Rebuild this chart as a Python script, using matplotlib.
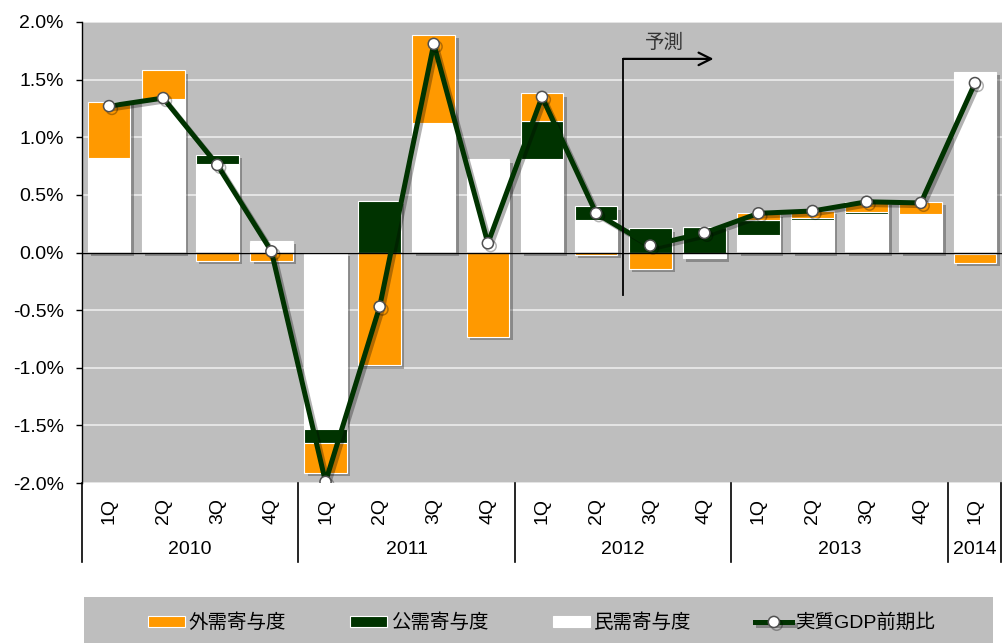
import numpy as np
import matplotlib
matplotlib.use('Agg')
import matplotlib.pyplot as plt
import matplotlib.patheffects as pe
from matplotlib.patches import Rectangle

plt.rcParams['font.family'] = ['Liberation Sans', 'Noto Sans CJK JP']

# quarterly contributions to real GDP growth (%)
quarters = ['1Q', '2Q', '3Q', '4Q'] * 4 + ['1Q']
years = ['2010', '2011', '2012', '2013', '2014']
year_len = [4, 4, 4, 4, 1]

external = [0.49, 0.25, -0.07, -0.07, -0.26, -0.98, 0.77, -0.73, 0.24, -0.02,
            -0.14, 0.0, 0.06, 0.06, 0.09, 0.11, -0.08]
public = [0.0, 0.0, 0.08, 0.01, -0.12, 0.45, 0.0, 0.01, 0.33, 0.12,
          0.21, 0.22, 0.13, 0.02, 0.02, 0.0, -0.01]
private = [0.82, 1.33, 0.77, 0.09, -1.53, 0.0, 1.12, 0.80, 0.81, 0.28,
           0.0, -0.05, 0.15, 0.28, 0.33, 0.33, 1.57]
gdp = [1.27, 1.34, 0.76, 0.01, -1.99, -0.47, 1.81, 0.08, 1.35, 0.34,
       0.06, 0.17, 0.34, 0.36, 0.44, 0.43, 1.47]

forecast_from = 9.5   # boundary between 2012 2Q and 3Q

BG = '#bebebe'
ORANGE = '#ff9900'
GREEN = '#003300'

fig = plt.figure(figsize=(10.02, 6.43), dpi=100)
ax = fig.add_axes([82 / 1002, 160 / 643, 920 / 1002, 461 / 643])
ax.set_facecolor(BG)

x = np.arange(len(quarters))
width = 0.79

# stack from zero outward: private, public, external
series = [(private, 'white', '民需寄与度'),
          (public, GREEN, '公需寄与度'),
          (external, ORANGE, '外需寄与度')]
pos_base = np.zeros(len(x))
neg_base = np.zeros(len(x))
handles = {}
for vals, col, name in series:
    v = np.array(vals)
    base = np.where(v >= 0, pos_base, neg_base)
    b = ax.bar(x, v, width, bottom=base, color=col, edgecolor='white',
               linewidth=0.8, zorder=2)
    handles[name] = b
    pos_base += np.where(v >= 0, v, 0)
    neg_base += np.where(v < 0, v, 0)

# drop shadow behind each whole stack
ax.bar(x, pos_base - neg_base, width, bottom=neg_base, color='none',
       zorder=1.5,
       path_effects=[pe.SimplePatchShadow(offset=(2.5, -2.5),
                                          shadow_rgbFace='#4a4a4a', alpha=0.45)])

ax.axhline(0, color='black', lw=1, zorder=2.5)

gdp_line, = ax.plot(x, gdp, color=GREEN, lw=3.6, marker='o', markersize=8,
                    markerfacecolor='white', markeredgecolor='#505050',
                    markeredgewidth=1.1, zorder=3,
                    path_effects=[pe.SimpleLineShadow(offset=(2, -2),
                                                      shadow_color='k', alpha=0.3),
                                  pe.Normal()])

# forecast marker
ax.plot([forecast_from, forecast_from], [-0.37, 1.68], color='black', lw=1.3,
        zorder=4)
ax.annotate('', xy=(11.17, 1.68), xytext=(forecast_from, 1.68),
            arrowprops=dict(arrowstyle='->,head_length=0.9,head_width=0.45',
                            lw=1.6, color='black', shrinkA=0, shrinkB=0),
            zorder=4)
ax.text(10.27, 1.82, '予測', ha='center', va='center', fontsize=14,
        color='#333333', family=['Noto Sans CJK JP'])

# axes
ax.set_xlim(-0.5, len(x) - 0.5)
ax.set_ylim(-2.0, 2.0)
yt = np.arange(-2.0, 2.01, 0.5)
ax.set_yticks(yt)
ax.set_yticklabels(['{:.1f}%'.format(v) for v in yt], fontsize=14)
ax.tick_params(axis='y', direction='out', length=4, width=1, pad=9)
ax.yaxis.grid(True, color='#e6e6e6', lw=1.4)
ax.set_axisbelow(True)

ax.set_xticks(x)
ax.set_xticklabels(quarters, rotation=90, fontsize=14)
ax.tick_params(axis='x', length=0, pad=11)

for s in ['top', 'right', 'bottom']:
    ax.spines[s].set_visible(False)
ax.spines['left'].set_linewidth(1)

# year groups and separators below the axis
start = 0
tr = ax.get_xaxis_transform()
for yr, n in zip(years, year_len):
    ax.plot([start - 0.5, start - 0.5], [0, -0.172], color='black', lw=1.2,
            transform=tr, clip_on=False)
    ax.text(start + (n - 1) / 2, -0.145, yr, transform=tr, ha='center',
            va='center', fontsize=14)
    start += n
ax.plot([start - 0.52, start - 0.52], [0, -0.172], color='black', lw=1.2,
        transform=tr, clip_on=False)

# legend strip
fig.patches.append(Rectangle((84 / 1002, 0), (993 - 84) / 1002, 46 / 643,
                             transform=fig.transFigure, facecolor=BG,
                             edgecolor='none', zorder=0))
order = ['外需寄与度', '公需寄与度', '民需寄与度']
leg = fig.legend([handles[k] for k in order] + [gdp_line],
                 order + ['実質GDP前期比'],
                 loc='center', bbox_to_anchor=(542 / 1002, 1 - 623 / 643),
                 ncol=4, frameon=False, fontsize=14, handlelength=1.9,
                 handleheight=0.55, handletextpad=0.2, columnspacing=3.3)

fig.savefig('out.png', dpi=100)
